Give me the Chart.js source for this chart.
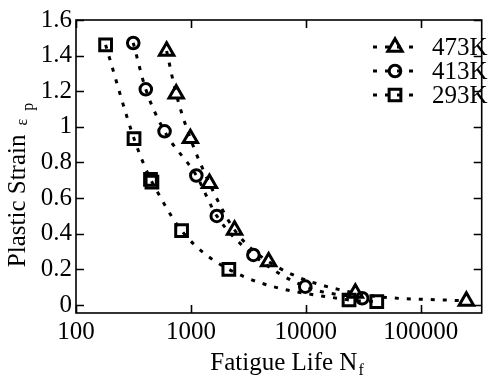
<!DOCTYPE html>
<html><head><meta charset="utf-8">
<script src="https://cdn.jsdelivr.net/npm/chart.js@4.4.1/dist/chart.umd.min.js"></script>
<style>html,body{margin:0;padding:0;background:#fff;}#wrap{width:493px;height:378px;}</style>
</head><body><div id="wrap"><canvas id="c" width="493" height="378"></canvas></div>
<script>
// ---- data ----
const seriesLabels = ['473K', '413K', '293K'];
const life473   = [615, 745, 990, 1450, 2400, 4750, 27000, 250000];
const strain473 = [1.426, 1.185, 0.935, 0.683, 0.421, 0.243, 0.067, 0.022];
const life413   = [315, 405, 590, 1115, 1680, 3500, 9900, 31000];
const strain413 = [1.471, 1.211, 0.975, 0.727, 0.5, 0.281, 0.103, 0.038];
const life293   = [181, 320, 445, 458, 830, 2140, 23800, 41500];
const strain293 = [1.46, 0.934, 0.705, 0.69, 0.417, 0.2, 0.028, 0.019];
const xTickValues = [100, 1000, 10000, 100000];
const yTickValues = [0, 0.2, 0.4, 0.6, 0.8, 1, 1.2, 1.4, 1.6];
const xTitle = 'Fatigue Life N';
const xTitleSub = 'f';
const yTitle = 'Plastic Strain';
const yTitleSym = 'ε';
const yTitleSub = 'p';

const FONT = 'Liberation Serif';
const toPts = (xs, ys) => xs.map((x, i) => ({x: x, y: ys[i]}));
const common = {
  borderColor: '#000', backgroundColor: 'rgba(0,0,0,0)', borderWidth: 3,
  borderDash: [4, 8], borderCapStyle: 'butt',
  pointBorderColor: '#000', pointBackgroundColor: 'rgba(0,0,0,0)', pointBorderWidth: 3,
  cubicInterpolationMode: 'monotone', fill: false
};

function drawMarker(ctx, style, r, x, y) {
  ctx.beginPath();
  if (style === 'circle') { ctx.arc(x, y, r, 0, Math.PI * 2); }
  else if (style === 'rect') { const s = r * Math.SQRT1_2; ctx.rect(x - s, y - s, 2 * s, 2 * s); }
  else {
    ctx.moveTo(x, y - r);
    ctx.lineTo(x + r * Math.sin(2 * Math.PI / 3), y - r * Math.cos(2 * Math.PI / 3));
    ctx.lineTo(x + r * Math.sin(4 * Math.PI / 3), y - r * Math.cos(4 * Math.PI / 3));
    ctx.closePath();
  }
  ctx.stroke();
}

const decor = {
  id: 'decor',
  afterDraw(chart) {
    const ctx = chart.ctx, a = chart.chartArea, xs = chart.scales.x, ys = chart.scales.y;
    ctx.save();
    ctx.strokeStyle = '#000';
    ctx.lineWidth = 1.6;
    ctx.setLineDash([]);
    ctx.strokeRect(a.left, a.top, a.right - a.left, a.bottom - a.top);
    const L = 8;
    ctx.beginPath();
    xs.ticks.forEach(t => {
      const px = Math.round(xs.getPixelForValue(t.value)) + 0.5;
      ctx.moveTo(px, a.bottom); ctx.lineTo(px, a.bottom - L);
      ctx.moveTo(px, a.top); ctx.lineTo(px, a.top + L);
    });
    ys.ticks.forEach(t => {
      const py = Math.round(ys.getPixelForValue(t.value)) + 0.5;
      ctx.moveTo(a.left, py); ctx.lineTo(a.left + L, py);
      ctx.moveTo(a.right, py); ctx.lineTo(a.right - L, py);
    });
    ctx.stroke();

    // x title
    ctx.fillStyle = '#000';
    ctx.textBaseline = 'alphabetic';
    ctx.textAlign = 'left';
    const mainF = '25px "' + FONT + '"', subF = '16px "' + FONT + '"';
    ctx.font = mainF;
    const w1 = ctx.measureText(xTitle).width;
    ctx.font = subF;
    const w2 = ctx.measureText(xTitleSub).width;
    const cx = 287, x0 = cx - (w1 + 1 + w2) / 2;
    ctx.font = mainF; ctx.fillText(xTitle, x0, 370);
    ctx.font = subF; ctx.fillText(xTitleSub, x0 + w1 + 1, 375);

    // y title (rotated)
    ctx.font = mainF;
    const m1 = ctx.measureText(yTitle).width;
    ctx.font = subF;
    const m2 = ctx.measureText(yTitleSym).width;
    const m3 = ctx.measureText(yTitleSub).width;
    const total = m1 + 9 + m2 + 8 + m3;
    ctx.save();
    ctx.translate(25, 185 + total / 2);
    ctx.rotate(-Math.PI / 2);
    ctx.font = mainF; ctx.fillText(yTitle, 0, 0);
    ctx.font = subF; ctx.fillText(yTitleSym, m1 + 9, 1.5);
    ctx.fillText(yTitleSub, m1 + 9 + m2 + 8, 8);
    ctx.restore();

    // legend
    const rows = [47, 71, 95];
    chart.data.datasets.forEach((ds, i) => {
      const y = rows[i];
      ctx.lineWidth = ds.borderWidth;
      ctx.setLineDash(ds.borderDash);
      ctx.beginPath(); ctx.moveTo(373, y); ctx.lineTo(414, y); ctx.stroke();
      ctx.setLineDash([]);
      ctx.lineWidth = ds.pointBorderWidth;
      drawMarker(ctx, ds.pointStyle, ds.pointRadius, 395, y);
      ctx.font = mainF;
      ctx.textBaseline = 'middle';
      ctx.fillText(ds.label, 432, y + 1);
    });
    ctx.restore();
  }
};

new Chart(document.getElementById('c'), {
  type: 'line',
  data: {
    datasets: [
      Object.assign({label: seriesLabels[0], data: toPts(life473, strain473), pointStyle: 'triangle', pointRadius: 8.3}, common),
      Object.assign({label: seriesLabels[1], data: toPts(life413, strain413), pointStyle: 'circle', pointRadius: 5.8}, common),
      Object.assign({label: seriesLabels[2], data: toPts(life293, strain293), pointStyle: 'rect', pointRadius: 8.3}, common)
    ]
  },
  options: {
    responsive: false, animation: false, devicePixelRatio: 1,
    layout: {padding: {left: 0, right: 2, top: 20, bottom: 0}},
    plugins: {legend: {display: false}, tooltip: {enabled: false}},
    scales: {
      x: {
        type: 'logarithmic', min: 100, max: 340000,
        afterBuildTicks: s => { s.ticks = xTickValues.map(v => ({value: v})); },
        afterFit: s => { s.height = 65; },
        ticks: {callback: v => String(v), font: {family: FONT, size: 25}, color: '#000', padding: 4, maxRotation: 0, autoSkip: false},
        grid: {display: false, drawTicks: false}, border: {display: false}
      },
      y: {
        type: 'linear', min: -0.045, max: 1.6,
        afterBuildTicks: s => { s.ticks = yTickValues.map(v => ({value: v})); },
        afterFit: s => { s.width = 76; },
        ticks: {callback: v => String(v), font: {family: FONT, size: 25}, color: '#000', padding: 4, autoSkip: false},
        grid: {display: false, drawTicks: false}, border: {display: false}
      }
    }
  },
  plugins: [decor]
});
</script></body></html>
